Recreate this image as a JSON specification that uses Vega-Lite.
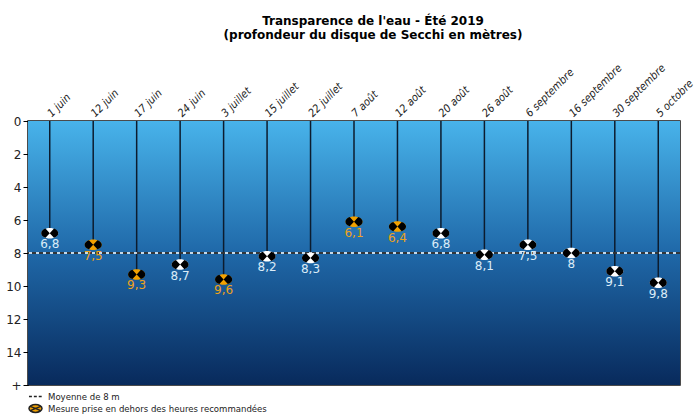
{
  "$schema": "https://vega.github.io/schema/vega-lite/v6.json",
  "width": 652,
  "height": 264,
  "padding": {"left": 5, "top": 14, "right": 0, "bottom": 2},
  "background": "white",
  "title": {
    "text": "Transparence de l'eau - Été 2019",
    "subtitle": "(profondeur du disque de Secchi en mètres)",
    "anchor": "middle",
    "frame": "group",
    "font": "DejaVu Sans",
    "fontSize": 12,
    "fontWeight": "bold",
    "color": "#000",
    "subtitleFont": "DejaVu Sans",
    "subtitleFontSize": 12,
    "subtitleFontWeight": "bold",
    "subtitleColor": "#000",
    "subtitlePadding": 2,
    "offset": 20,
    "dx": 19
  },
  "datasets": {
    "mesures": [
      {"date": "1 juin", "profondeur": 6.8, "horsHeures": false},
      {"date": "12 juin", "profondeur": 7.5, "horsHeures": true},
      {"date": "17 juin", "profondeur": 9.3, "horsHeures": true},
      {"date": "24 juin", "profondeur": 8.7, "horsHeures": false},
      {"date": "3 juillet", "profondeur": 9.6, "horsHeures": true},
      {"date": "15 juillet", "profondeur": 8.2, "horsHeures": false},
      {"date": "22 juillet", "profondeur": 8.3, "horsHeures": false},
      {"date": "7 août", "profondeur": 6.1, "horsHeures": true},
      {"date": "12 août", "profondeur": 6.4, "horsHeures": true},
      {"date": "20 août", "profondeur": 6.8, "horsHeures": false},
      {"date": "26 août", "profondeur": 8.1, "horsHeures": false},
      {"date": "6 septembre", "profondeur": 7.5, "horsHeures": false},
      {"date": "16 septembre", "profondeur": 8, "horsHeures": false},
      {"date": "30 septembre", "profondeur": 9.1, "horsHeures": false},
      {"date": "5 octobre", "profondeur": 9.8, "horsHeures": false}
    ],
    "fond": [{"haut": 0, "bas": 16}],
    "moyenne": [{"moyenne": 8}],
    "legende": [
      {"entree": "Moyenne de 8 m"},
      {"entree": "Mesure prise en dehors des heures recommandées"}
    ]
  },
  "layer": [
    {
      "data": {"name": "fond"},
      "mark": {
        "type": "rect",
        "color": {
          "gradient": "linear",
          "x1": 0, "y1": 0, "x2": 0, "y2": 1,
          "stops": [
            {"offset": 0, "color": "#48b3ea"},
            {"offset": 0.5, "color": "#1f68a8"},
            {"offset": 1, "color": "#082a5c"}
          ]
        }
      },
      "encoding": {
        "y": {"field": "haut", "type": "quantitative", "scale": {"domain": [0, 16], "reverse": true, "nice": false, "zero": true}},
        "y2": {"field": "bas"}
      }
    },
    {
      "data": {"name": "mesures"},
      "mark": {"type": "rule", "color": "#0c1c2e", "strokeWidth": 1.5},
      "encoding": {
        "x": {"field": "date", "type": "nominal", "sort": null},
        "y": {"field": "profondeur", "type": "quantitative"},
        "y2": {"datum": 0}
      }
    },
    {
      "data": {"name": "moyenne"},
      "mark": {"type": "rule", "color": "#ffffff", "strokeWidth": 1.5},
      "encoding": {"y": {"field": "moyenne", "type": "quantitative"}}
    },
    {
      "data": {"name": "moyenne"},
      "mark": {"type": "rule", "color": "#000000", "strokeWidth": 1.5, "strokeDash": [4, 3]},
      "encoding": {"y": {"field": "moyenne", "type": "quantitative"}}
    },
    {
      "data": {"name": "mesures"},
      "mark": {
        "type": "point",
        "filled": true,
        "size": 289,
        "opacity": 1,
        "shape": "M-1,0 A1,0.62 0 1,1 1,0 A1,0.62 0 1,1 -1,0 Z"
      },
      "encoding": {
        "x": {"field": "date", "type": "nominal", "sort": null},
        "y": {"field": "profondeur", "type": "quantitative"},
        "fill": {"condition": {"test": "datum.horsHeures", "value": "#f2a100"}, "value": "#ffffff"}
      }
    },
    {
      "data": {"name": "mesures"},
      "mark": {
        "type": "point",
        "filled": true,
        "size": 289,
        "opacity": 1,
        "color": "#000000",
        "shape": "M0,0 L-0.5,-0.54 A1,0.62 0 0,0 -0.5,0.54 Z M0,0 L0.5,-0.54 A1,0.62 0 0,1 0.5,0.54 Z"
      },
      "encoding": {
        "x": {"field": "date", "type": "nominal", "sort": null},
        "y": {"field": "profondeur", "type": "quantitative"}
      }
    },
    {
      "data": {"name": "mesures"},
      "mark": {"type": "text", "dy": 11, "fontSize": 12, "font": "DejaVu Sans", "baseline": "middle"},
      "encoding": {
        "x": {"field": "date", "type": "nominal", "sort": null},
        "y": {"field": "profondeur", "type": "quantitative"},
        "text": {"field": "profondeur", "type": "quantitative", "format": ".1~f"},
        "color": {"condition": {"test": "datum.horsHeures", "value": "#eea21a"}, "value": "#dcecf8"}
      }
    },
    {
      "data": {"name": "legende"},
      "mark": {"type": "point", "filled": true, "opacity": 0, "fill": "#f2a100", "stroke": "#222222", "strokeWidth": 1.5},
      "encoding": {
        "shape": {
          "field": "entree", "type": "nominal",
          "scale": {
            "domain": ["Moyenne de 8 m", "Mesure prise en dehors des heures recommandées"],
            "range": ["M-1,0 L-0.55,0 M-0.25,0 L0.2,0 M0.5,0 L0.95,0", "M-1,0 A1,0.6 0 1,1 1,0 A1,0.6 0 1,1 -1,0 Z M-0.8,-0.32 L0.8,0.32 M-0.8,0.32 L0.8,-0.32"]
          },
          "legend": {
            "title": null,
            "orient": "bottom",
            "direction": "vertical",
            "offset": 4,
            "symbolSize": 170,
            "labelFontSize": 9.5,
            "labelColor": "#222",
            "labelFont": "DejaVu Sans Condensed",
            "labelLimit": 0,
            "rowPadding": 0,
            "labelOffset": 5
          }
        }
      }
    }
  ],
  "config": {
    "font": "DejaVu Sans",
    "locale": {"number": {"decimal": ",", "thousands": " ", "grouping": [3], "currency": ["", " €"]}},
    "view": {"stroke": "#111", "strokeWidth": 1.5},
    "scale": {"bandPaddingInner": 0, "bandPaddingOuter": 0},
    "axisX": {
      "orient": "top",
      "title": null,
      "labelAngle": -45,
      "labelAlign": "left",
      "labelBaseline": "middle",
      "labelFontStyle": "italic",
      "labelFontSize": 11,
      "labelFont": "DejaVu Sans Condensed",
      "labelColor": "#222",
      "labelPadding": 6,
      "ticks": false,
      "domain": false,
      "grid": false
    },
    "axisY": {
      "title": null,
      "grid": false,
      "labelFontSize": 12,
      "labelColor": "#222",
      "tickColor": "#000",
      "domainColor": "#000",
      "tickSize": 5,
      "minExtent": 20,
      "maxExtent": 20,
      "values": [0, 2, 4, 6, 8, 10, 12, 14, 16],
      "labelExpr": "datum.value == 16 ? '+' : datum.label"
    }
  }
}
